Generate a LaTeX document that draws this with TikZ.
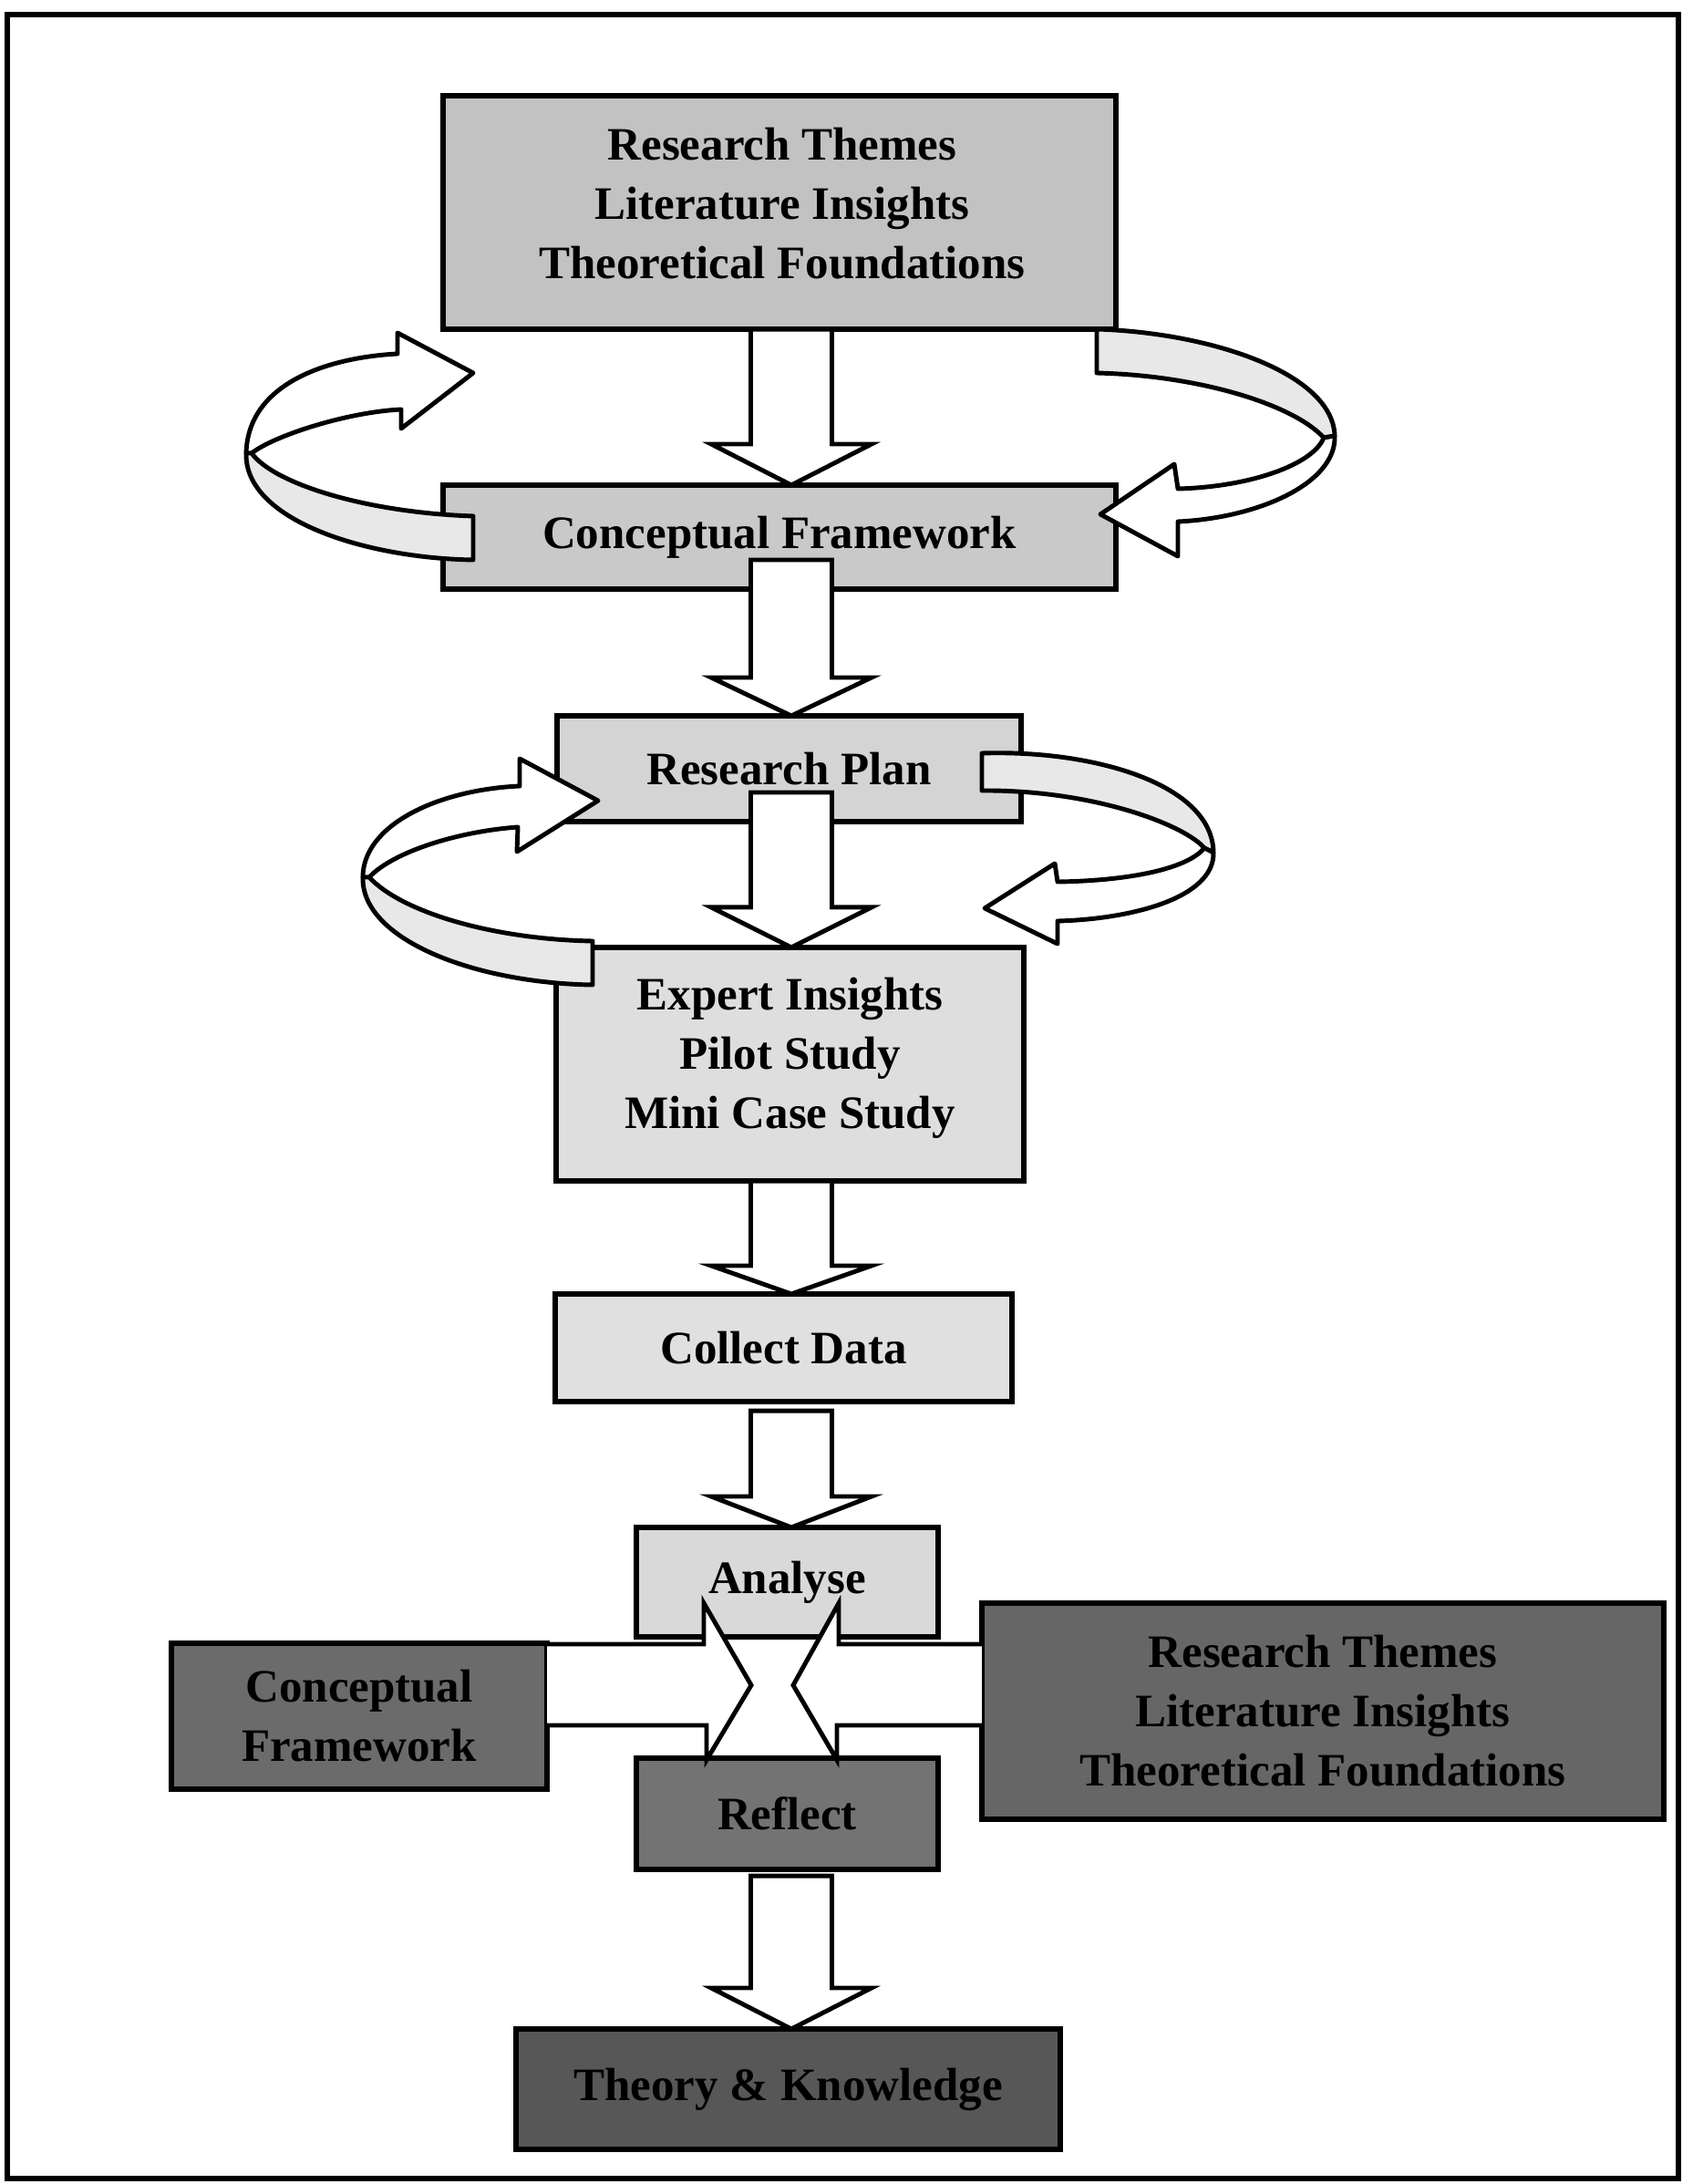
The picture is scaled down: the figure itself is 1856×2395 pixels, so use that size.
\documentclass[tikz,border=0pt]{standalone}
\usepackage{fontspec}
\setmainfont{Liberation Serif}
\usetikzlibrary{calc}

% vertical block arrow: start point, tip point, head length
\newcommand\blockdown[3]{%
  \draw[barrow] ($(#1)+(-44.5,0)$) -- ($(#2)+(-44.5,-#3)$) -- ($(#2)+(-88,-#3)$)
    -- (#2) -- ($(#2)+(88,-#3)$) -- ($(#2)+(44.5,-#3)$) -- ($(#1)+(44.5,0)$) -- cycle;}

\begin{document}
\begin{tikzpicture}[x=0.01cm,y=-0.01cm,
  box/.style={draw=black, line width=1.6pt, inner sep=0pt, outer sep=0pt},
  txt/.style={inner sep=0pt, align=center,
    font=\bfseries\fontsize{14.5pt}{18.5pt}\selectfont},
  barrow/.style={draw=black, fill=white, line width=1.4pt, line join=miter},
  ribbonback/.style={draw=black, fill=white, line width=1.4pt, line join=round},
  ribbonfront/.style={draw=black, fill=black!9, line width=1.4pt, line join=round},
  frame/.style={draw=black, line width=1.8pt}]

\useasboundingbox[fill=white] (0,0) rectangle (1856,2395);
\draw[frame] (8,16) rectangle (1841,2389);

% main column of boxes
\node[box, fill=black!24, minimum width=7.38cm, minimum height=2.56cm] (themes) at (855,233) {};
\node[box, fill=black!21, minimum width=7.38cm, minimum height=1.14cm] (concept) at (855,589) {};
\node[box, fill=black!17, minimum width=5.09cm, minimum height=1.16cm] (plan) at (865.5,843) {};
\node[box, fill=black!13, minimum width=5.13cm, minimum height=2.56cm] (expert) at (866.5,1167) {};
\node[box, fill=black!12, minimum width=5.01cm, minimum height=1.18cm] (collect) at (859.5,1478) {};
\node[box, fill=black!15, minimum width=3.31cm, minimum height=1.20cm] (analyse) at (863.5,1735) {};
\node[box, fill=black!55, minimum width=3.31cm, minimum height=1.22cm] (reflect) at (863.5,1989) {};
\node[box, fill=black!66, minimum width=5.97cm, minimum height=1.32cm] (theory) at (864.5,2291) {};

% side boxes beside the analyse/reflect pair
\node[box, fill=black!58, minimum width=4.12cm, minimum height=1.60cm] (cfside) at (394,1882) {};
\node[box, fill=black!60, minimum width=7.48cm, minimum height=2.37cm] (rtside) at (1451,1876.5) {};

% box texts
\node[txt] (themesT) at ($(themes)+(3,-10)$)
  {Research Themes\\Literature Insights\\Theoretical Foundations};
\node[txt] (conceptT) at (concept) {Conceptual Framework};
\node[txt] (planT) at (plan) {Research Plan};
\node[txt] (expertT) at ($(expert)+(0,-7)$) {Expert Insights\\Pilot Study\\Mini Case Study};
\node[txt] (collectT) at (collect) {Collect Data};
\node[txt] (analyseT) at (analyse) {Analyse};
\node[txt] (reflectT) at (reflect) {Reflect};
\node[txt] (theoryT) at (theory) {Theory \& Knowledge};
\node[txt] (cfsideT) at (cfside) {Conceptual\\Framework};
\node[txt] (rtsideT) at (rtside) {Research Themes\\Literature Insights\\Theoretical Foundations};

% block arrows down the column
\coordinate (axis) at (868,0);
\coordinate (a1s) at (axis |- themes.south);
\coordinate (a1t) at (axis |- concept.north);
\coordinate (a2s) at ($(axis |- concept.south)+(0,-32)$);
\coordinate (a2t) at (axis |- plan.north);
\coordinate (a3s) at ($(axis |- plan.south)+(0,-32)$);
\coordinate (a3t) at (axis |- expert.north);
\coordinate (a4s) at (axis |- expert.south);
\coordinate (a4t) at (axis |- collect.north);
\coordinate (a5s) at ($(axis |- collect.south)+(0,10)$);
\coordinate (a5t) at (axis |- analyse.north);
\coordinate (a6s) at ($(axis |- reflect.south)+(0,7)$);
\coordinate (a6t) at (axis |- theory.north);
\blockdown{a1s}{a1t}{45}
\blockdown{a2s}{a2t}{42}
\blockdown{a3s}{a3t}{44}
\blockdown{a4s}{a4t}{31}
\blockdown{a5s}{a5t}{34}
\blockdown{a6s}{a6t}{45}

% feedback ribbon, upper left
\draw[ribbonback] (436,388) -- (436,365) -- (519,409) -- (440,470) -- (440,449)
  .. controls (380,452) and (300,478) .. (276,497) -- (270,497)
  .. controls (272,420) and (360,392) .. (436,388) -- cycle;
\draw[ribbonfront] (270,497) .. controls (268,570) and (400,612) .. (519,614)
  -- (519,566) .. controls (400,562) and (300,530) .. (276,497) -- cycle;

% feedback ribbon, upper right
\draw[ribbonfront] (1203,361) .. controls (1330,365) and (1462,410) .. (1464,478)
  -- (1452,480) .. controls (1420,445) and (1320,412) .. (1203,409) -- cycle;
\draw[ribbonback] (1292,536) -- (1288,509) -- (1207,564) -- (1292,610) -- (1292,572)
  .. controls (1380,568) and (1466,530) .. (1464,478) -- (1452,480)
  .. controls (1440,510) and (1370,534) .. (1292,536) -- cycle;

% feedback ribbon, lower left
\draw[ribbonback] (570,862) -- (570,832) -- (656,878) -- (567,934) -- (568,907)
  .. controls (500,912) and (430,935) .. (405,962) -- (398,962)
  .. controls (398,905) and (480,866) .. (570,862) -- cycle;
\draw[ribbonfront] (398,962) .. controls (396,1030) and (520,1078) .. (650,1080)
  -- (650,1032) .. controls (540,1030) and (440,1000) .. (405,962) -- cycle;

% feedback ribbon, lower right
\draw[ribbonfront] (1077,826) .. controls (1200,822) and (1330,860) .. (1331,935)
  -- (1321,930) .. controls (1300,905) and (1200,866) .. (1077,867) -- cycle;
\draw[ribbonback] (1160,967) -- (1157,947) -- (1080,996) -- (1160,1035) -- (1160,1010)
  .. controls (1240,1008) and (1332,985) .. (1331,935) -- (1321,930)
  .. controls (1300,955) and (1230,966) .. (1160,967) -- cycle;

% two inward block arrows from the side boxes, heads meeting between analyse and reflect
\coordinate (bt) at (0,1803);
\coordinate (bb) at (0,1892);
\draw[barrow] (cfside.east |- bt) -- (772,1803) -- (772,1758) -- (824,1848)
  -- (775,1930) -- (775,1892) -- (cfside.east |- bb);
\draw[barrow] (rtside.west |- bt) -- (920,1803) -- (920,1758) -- (870,1848)
  -- (918,1930) -- (918,1892) -- (rtside.west |- bb);

\end{tikzpicture}
\end{document}
